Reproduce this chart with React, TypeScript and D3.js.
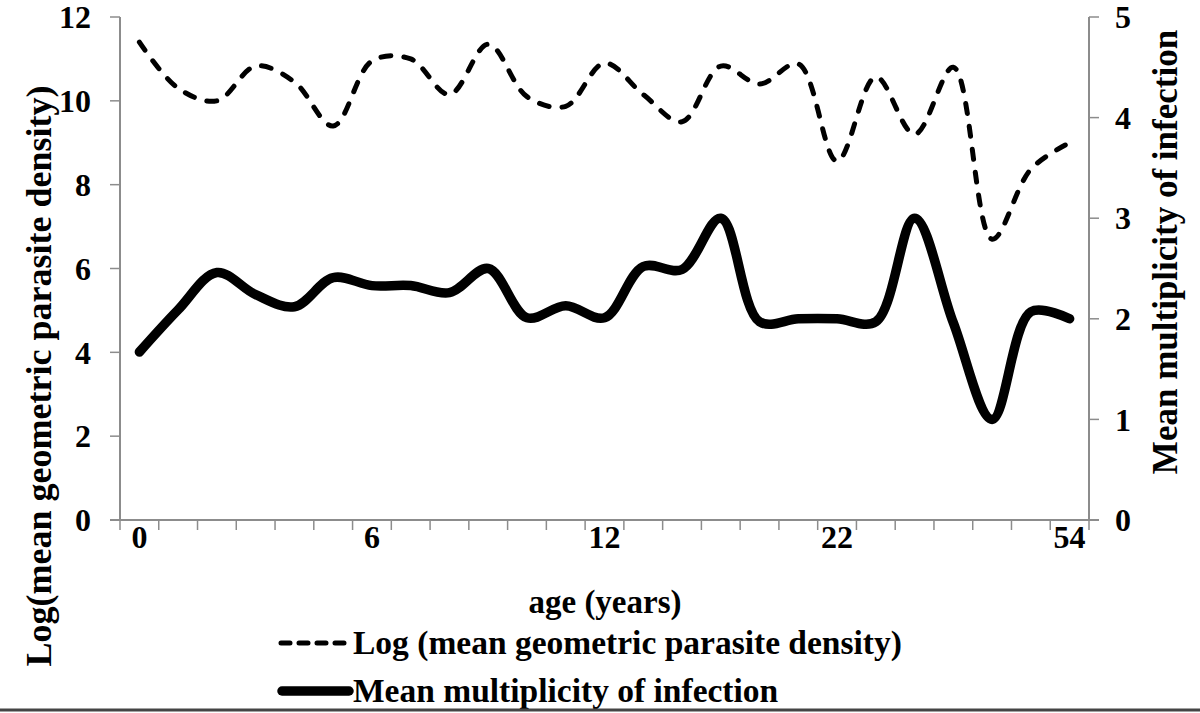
import React from "react";
import * as d3 from "d3";

// age groups (only every 6th is labelled on the axis)
const ageGroups = [
  "0", "1", "2", "3", "4", "5", "6", "7", "8", "9", "10", "11", "12",
  "13", "14", "15", "16", "17", "22", "25", "30", "35", "40", "45", "54",
];
const shownLabels = ["0", "6", "12", "22", "54"];

// Log (mean geometric parasite density) - left axis
const logDensity = [
  11.4, 10.3, 10.0, 10.83, 10.45, 9.4, 10.95, 11.0, 10.15, 11.35, 10.1, 9.87,
  10.9, 10.15, 9.5, 10.83, 10.4, 10.88, 8.56, 10.57, 9.2, 10.8, 6.7, 8.37, 9.0,
];

// Mean multiplicity of infection - right axis
const meanMoi = [
  1.67, 2.09, 2.46, 2.24, 2.12, 2.41, 2.33, 2.33, 2.26, 2.5, 2.01, 2.13, 2.01,
  2.52, 2.49, 3.0, 1.97, 2.0, 2.0, 1.97, 3.0, 1.96, 1.0, 2.07, 2.0,
];

const leftTicks = [0, 2, 4, 6, 8, 10, 12];
const rightTicks = [0, 1, 2, 3, 4, 5];

const W = 1200;
const H = 713;
const margin = { top: 17, right: 111, bottom: 193, left: 120 };
const font = "'Liberation Serif', 'Times New Roman', serif";
const axisColor = "#8c8c8c";

export default function App() {
  const x0 = margin.left;
  const x1 = W - margin.right;
  const y0 = H - margin.bottom;
  const y1 = margin.top;

  const x = d3.scaleBand<string>().domain(ageGroups).range([x0, x1]).padding(0);
  const cx = (i: number) => (x(ageGroups[i]) as number) + x.bandwidth() / 2;
  const yL = d3.scaleLinear().domain([0, 12]).range([y0, y1]);
  const yR = d3.scaleLinear().domain([0, 5]).range([y0, y1]);

  const lineL = d3
    .line<number>()
    .x((_, i) => cx(i))
    .y((d) => yL(d))
    .curve(d3.curveCatmullRom.alpha(0.5));
  const lineR = d3
    .line<number>()
    .x((_, i) => cx(i))
    .y((d) => yR(d))
    .curve(d3.curveCatmullRom.alpha(0.5));

  const boundaries = d3.range(ageGroups.length + 1).map((i) => x0 + i * x.step());

  return (
    <svg
      width={W}
      height={H}
      style={{ position: "absolute", left: 0, top: 0, background: "#fff" }}
      fontFamily={font}
      fontWeight="bold"
    >
      <rect width={W} height={H} fill="#fff" />

      {/* left axis */}
      <line x1={x0} x2={x0} y1={y1} y2={y0} stroke={axisColor} strokeWidth={2} />
      {leftTicks.map((t) => (
        <g key={"l" + t}>
          <line x1={x0 - 10} x2={x0} y1={yL(t)} y2={yL(t)} stroke={axisColor} strokeWidth={1.5} />
          <text x={x0 - 29} y={yL(t)} dy="0.35em" textAnchor="end" fontSize={32}>
            {t}
          </text>
        </g>
      ))}

      {/* right axis */}
      <line x1={x1} x2={x1} y1={y1} y2={y0} stroke={axisColor} strokeWidth={2} />
      {rightTicks.map((t) => (
        <g key={"r" + t}>
          <line x1={x1} x2={x1 + 10} y1={yR(t)} y2={yR(t)} stroke={axisColor} strokeWidth={1.5} />
          <text x={x1 + 26} y={yR(t)} dy="0.35em" textAnchor="start" fontSize={32}>
            {t}
          </text>
        </g>
      ))}

      {/* bottom axis */}
      <line x1={x0 - 10} x2={x1 + 10} y1={y0} y2={y0} stroke={axisColor} strokeWidth={2} />
      {boundaries.map((b, i) => (
        <line key={"b" + i} x1={b} x2={b} y1={y0} y2={y0 + 10} stroke={axisColor} strokeWidth={1.5} />
      ))}
      {ageGroups.map((a, i) =>
        shownLabels.includes(a) ? (
          <text key={"x" + a} x={cx(i)} y={y0 + 17} dy="0.35em" textAnchor="middle" fontSize={32}>
            {a}
          </text>
        ) : null
      )}

      {/* series */}
      <path
        d={lineL(logDensity) || ""}
        fill="none"
        stroke="#000"
        strokeWidth={5}
        strokeDasharray="10 13"
        strokeLinecap="round"
      />
      <path d={lineR(meanMoi) || ""} fill="none" stroke="#000" strokeWidth={9.5} strokeLinecap="round" strokeLinejoin="round" />

      {/* axis titles */}
      <text x={605} y={613} textAnchor="middle" fontSize={33}>
        age (years)
      </text>
      <text transform={`translate(38,376) rotate(-90)`} dy="0.35em" textAnchor="middle" fontSize={36}>
        Log(mean geometric parasite density)
      </text>
      <text transform={`translate(1165,252) rotate(-90)`} dy="0.35em" textAnchor="middle" fontSize={35}>
        Mean multiplicity of infection
      </text>

      {/* legend */}
      <line x1={281} x2={350} y1={643} y2={643} stroke="#000" strokeWidth={5} strokeDasharray="9 9" strokeLinecap="round" />
      <text x={353} y={654} fontSize={33.5}>
        Log (mean geometric parasite density)
      </text>
      <line x1={282} x2={349} y1={691} y2={691} stroke="#000" strokeWidth={9.5} strokeLinecap="round" />
      <text x={353} y={702} fontSize={33.5}>
        Mean multiplicity of infection
      </text>

      {/* bottom rule */}
      <line x1={0} x2={W} y1={710} y2={710} stroke="#444" strokeWidth={3} />
    </svg>
  );
}
